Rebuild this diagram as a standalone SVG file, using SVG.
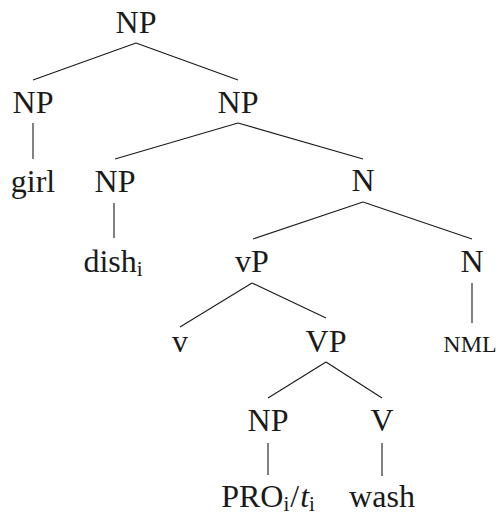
<svg xmlns="http://www.w3.org/2000/svg" width="499" height="521" viewBox="0 0 499 521">
<style>
text{font-family:"Liberation Serif","Times New Roman",serif;font-size:32px;fill:#1a1a1a;text-anchor:middle}
.sc{font-size:24px}
.sub{font-size:21px}
#edges line{stroke:#1a1a1a;stroke-width:1.1}
</style>
<rect width="499" height="521" fill="#fff"/>
<g id="edges">
<line x1="136" y1="43" x2="33" y2="80"/>
<line x1="136" y1="43" x2="238" y2="80"/>
<line x1="33" y1="123" x2="33" y2="159"/>
<line x1="238" y1="123" x2="115" y2="159"/>
<line x1="238" y1="123" x2="363" y2="159"/>
<line x1="114" y1="203" x2="114" y2="238"/>
<line x1="363" y1="202" x2="253" y2="239"/>
<line x1="363" y1="202" x2="472" y2="239"/>
<line x1="252" y1="283" x2="180" y2="327"/>
<line x1="252" y1="283" x2="326" y2="318"/>
<line x1="472" y1="283" x2="472" y2="323"/>
<line x1="326" y1="362" x2="268" y2="398"/>
<line x1="326" y1="362" x2="382" y2="398"/>
<line x1="268" y1="443" x2="268" y2="475"/>
<line x1="382" y1="443" x2="382" y2="476"/>
</g>
<g id="n-root"><text x="136" y="33">NP</text></g>
<g id="n-np-left"><text x="33" y="113">NP</text></g>
<g id="n-girl"><text x="33" y="192">girl</text></g>
<g id="n-np-right"><text x="238" y="113">NP</text></g>
<g id="n-np-dish"><text x="115" y="192">NP</text></g>
<g id="n-dish"><text x="113" y="272">dish<tspan class="sub" dy="4">i</tspan></text></g>
<g id="n-n-top"><text x="363" y="191">N</text></g>
<g id="n-vp-small"><text x="252" y="272">vP</text></g>
<g id="n-n-right"><text x="472" y="272">N</text></g>
<g id="n-nml"><text class="sc" x="470" y="352">NML</text></g>
<g id="n-v"><text x="180" y="352">v</text></g>
<g id="n-vp"><text x="326" y="352">VP</text></g>
<g id="n-np-pro"><text x="268" y="431">NP</text></g>
<g id="n-V"><text x="382" y="431">V</text></g>
<g id="n-pro"><text x="268" y="507">PRO<tspan class="sub" dy="4">i</tspan><tspan dy="-4" dx="1">/</tspan><tspan font-style="italic" dx="1">t</tspan><tspan class="sub" dy="4">i</tspan></text></g>
<g id="n-wash"><text x="382" y="507">wash</text></g>
</svg>
